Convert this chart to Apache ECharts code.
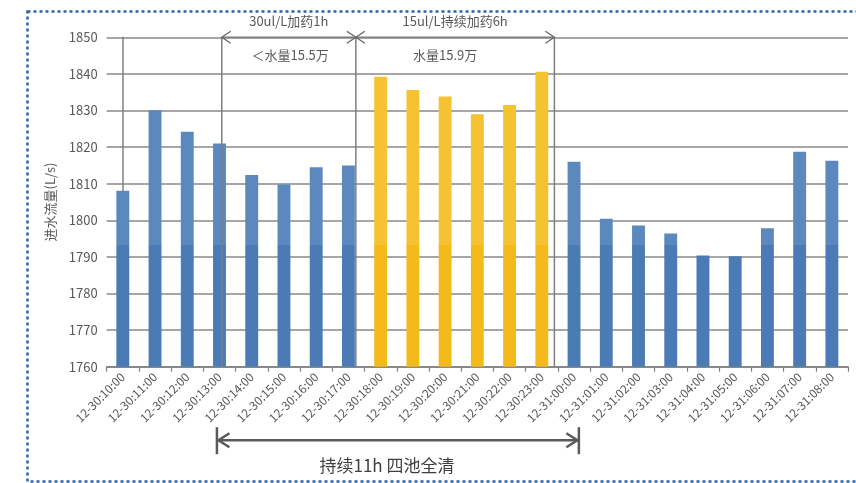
<!DOCTYPE html>
<html><head><meta charset="utf-8">
<script src="https://cdn.jsdelivr.net/npm/echarts@6/dist/echarts.min.js"></script>
<style>html,body{margin:0;padding:0;background:#fff}#c{width:856px;height:483px}</style>
</head><body><div id="c"></div>
<script>
var categories = ['12-30:10:00','12-30:11:00','12-30:12:00','12-30:13:00','12-30:14:00','12-30:15:00','12-30:16:00','12-30:17:00','12-30:18:00','12-30:19:00','12-30:20:00','12-30:21:00','12-30:22:00','12-30:23:00','12-31:00:00','12-31:01:00','12-31:02:00','12-31:03:00','12-31:04:00','12-31:05:00','12-31:06:00','12-31:07:00','12-31:08:00'];
var flowValues = [1808.1,1830.1,1824.2,1821.0,1812.4,1809.8,1814.5,1815.0,1839.2,1835.6,1833.8,1829.0,1831.5,1840.6,1816.0,1800.4,1798.6,1796.4,1790.4,1790.2,1797.8,1818.7,1816.3];
var dosingFlags = [0,0,0,0,0,0,0,0,1,1,1,1,1,1,0,0,0,0,0,0,0,0,0];
var yTicks = [1760,1770,1780,1790,1800,1810,1820,1830,1840,1850];
var yAxisName = '进水流量(L/s)';
// annotation positions in category units
var phaseLines = [3.07, 7.23, 13.39];
var phaseLabelsTop = ['30ul/L加药1h','15ul/L持续加药6h'];
var phaseLabelsSub = ['＜水量15.5万','水量15.9万'];
var subLabelPos = [5.19, 10.0];
var spanArrow = [2.92, 14.15];
var spanLabel = '持续11h 四池全清';

var chart = echarts.init(document.getElementById('c'));
var FONT = "'Noto Sans CJK SC','Noto Sans',sans-serif";
var blueTop='#5b88bd', blueBot='#4b7bb5', yelTop='#f5c231', yelBot='#f4b91b';

function baseOption(colorFn){
  return {
    animation:false,
    textStyle:{fontFamily:FONT},
    grid:{left:106.7,right:8,top:37.3,bottom:116.3},
    xAxis:[{
      type:'category',data:categories,
      axisLine:{lineStyle:{color:'#7f7f7f',width:1.5}},
      axisTick:{show:true,length:5,lineStyle:{color:'#7f7f7f',width:1.2}},
      axisLabel:{rotate:45,fontSize:12,color:'#595959',margin:8,interval:0}
    },{
      type:'value',min:-0.5,max:categories.length-0.5,show:false
    }],
    yAxis:{
      type:'value',min:yTicks[0],max:yTicks[yTicks.length-1],interval:10,
      name:yAxisName,nameLocation:'middle',nameGap:50,
      nameTextStyle:{fontSize:13,color:'#595959'},
      axisLine:{show:true,lineStyle:{color:'#7f7f7f',width:1.5}},
      axisTick:{show:false},
      axisLabel:{fontSize:13,color:'#595959',margin:9,formatter:function(v){return String(v);}},
      splitLine:{lineStyle:{color:'#888888',width:1.5}}
    },
    series:[{
      type:'bar',data:flowValues,barWidth:'40%',xAxisIndex:0,
      itemStyle:{color:colorFn}
    }]
  };
}
chart.setOption(baseOption(function(p){return dosingFlags[p.dataIndex]?yelBot:blueBot;}));

var splitY = chart.convertToPixel({yAxisIndex:0},1793.3);
var H = 483;
function grad(top,bot){
  var o = splitY/H;
  return new echarts.graphic.LinearGradient(0,0,0,H,[
    {offset:0,color:top},{offset:o,color:top},{offset:o+0.0001,color:bot},{offset:1,color:bot}
  ],true);
}
var gBlue = grad(blueTop,blueBot), gYel = grad(yelTop,yelBot);

function px(v){return chart.convertToPixel({xAxisIndex:1},v);}
var yTop = chart.convertToPixel({yAxisIndex:0},yTicks[yTicks.length-1]);
var yBot = chart.convertToPixel({yAxisIndex:0},yTicks[0]);

var G = [];
// dotted frame
G.push({type:'rect',shape:{x:27.5,y:11.5,width:860,height:470},style:{fill:null,stroke:'#2a64ab',lineWidth:2.5,lineDash:[3,3]},silent:true,z:1});
var lc = '#7f7f7f';
phaseLines.forEach(function(v){
  var x = px(v);
  G.push({type:'line',shape:{x1:x,y1:yTop,x2:x,y2:yBot},style:{stroke:lc,lineWidth:1.5},z:10});
});
function arrowHead(x,y,dir,size,h,color,w){
  return {type:'polyline',shape:{points:[[x+dir*size,y-h],[x,y],[x+dir*size,y+h]]},style:{stroke:color,lineWidth:w,fill:null},z:10};
}
for (var i=0;i<2;i++){
  var xa = px(phaseLines[i]), xb = px(phaseLines[i+1]);
  G.push({type:'line',shape:{x1:xa,y1:yTop,x2:xb,y2:yTop},style:{stroke:lc,lineWidth:1.5},z:10});
  G.push(arrowHead(xa,yTop,1,9,6,'#666',1.3));
  G.push(arrowHead(xb,yTop,-1,9,6,'#666',1.3));
  G.push({type:'text',x:(xa+xb)/2,y:yTop-16,style:{text:phaseLabelsTop[i],font:'13px '+FONT,fill:'#595959',align:'center',verticalAlign:'middle'},z:10});
  G.push({type:'text',x:px(subLabelPos[i]),y:yTop+18,style:{text:phaseLabelsSub[i],font:'13px '+FONT,fill:'#595959',align:'center',verticalAlign:'middle'},z:10});
}
// bottom span arrow
var xs = px(spanArrow[0]), xe = px(spanArrow[1]);
var ya = yBot + 73.5;
var ac = '#5a5a5a';
G.push({type:'line',shape:{x1:xs,y1:ya,x2:xe,y2:ya},style:{stroke:ac,lineWidth:2.5},z:10});
G.push({type:'line',shape:{x1:xs,y1:ya-13,x2:xs,y2:ya+14},style:{stroke:ac,lineWidth:2.5},z:10});
G.push({type:'line',shape:{x1:xe,y1:ya-13,x2:xe,y2:ya+14},style:{stroke:ac,lineWidth:2.5},z:10});
G.push(arrowHead(xs+1.5,ya,1,11,7,ac,2.5));
G.push(arrowHead(xe-1.5,ya,-1,11,7,ac,2.5));
G.push({type:'text',x:387,y:ya+25,style:{text:spanLabel,font:'17px '+FONT,fill:'#404040',align:'center',verticalAlign:'middle'},z:10});

var opt = baseOption(function(p){return dosingFlags[p.dataIndex]?gYel:gBlue;});
opt.graphic = G;
chart.setOption(opt,true);
</script></body></html>
